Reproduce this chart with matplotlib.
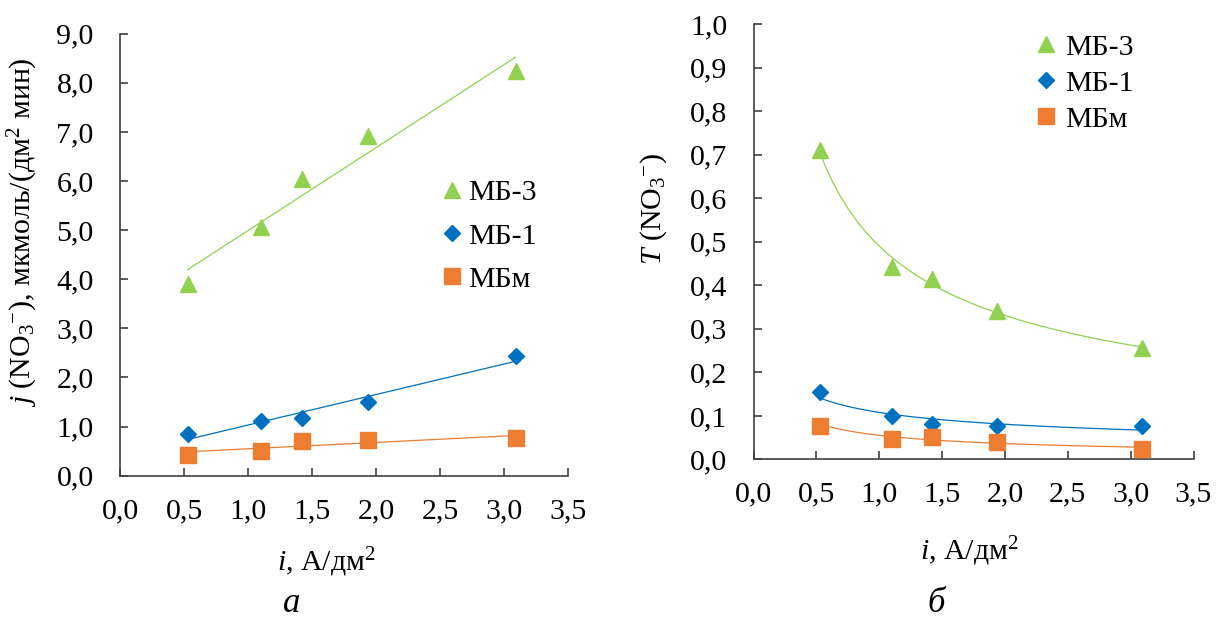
import matplotlib
matplotlib.use('Agg')
import matplotlib.pyplot as plt
import numpy as np
from matplotlib.ticker import FuncFormatter

# current density, A/dm2
x = [0.53, 1.10, 1.42, 1.94, 3.09]

# panel a: flux j(NO3-), umol/(dm2 min)
ja_mb3 = [3.90, 5.06, 6.05, 6.91, 8.24]
ja_mb1 = [0.85, 1.12, 1.17, 1.50, 2.43]
ja_mbm = [0.43, 0.51, 0.71, 0.73, 0.76]

# panel b: transport number T(NO3-)
tb_mb3 = [0.71, 0.443, 0.414, 0.342, 0.256]
tb_mb1 = [0.155, 0.100, 0.082, 0.077, 0.077]
tb_mbm = [0.078, 0.048, 0.052, 0.041, 0.025]

labels = ['МБ-3', 'МБ-1', 'МБм']
colors = ['#92D050', '#0070C0', '#ED7D31']
markers = ['^', 'D', 's']
msizes = [12, 8, 11]

plt.rcParams['font.family'] = ['Liberation Serif', 'DejaVu Serif']
plt.rcParams['mathtext.fontset'] = 'custom'
plt.rcParams['mathtext.rm'] = 'Liberation Serif'
plt.rcParams['mathtext.it'] = 'Liberation Serif:italic'
plt.rcParams['font.size'] = 21.5

comma = FuncFormatter(lambda v, _: '{:.1f}'.format(v).replace('.', ','))
axcol = '#404040'

fig = plt.figure(figsize=(12.16, 6.22), dpi=100)
axa = fig.add_axes([0.0987, 0.2352, 0.3684, 0.7106])
axb = fig.add_axes([0.6197, 0.2613, 0.3618, 0.6999])


def style(ax, ymax, ystep):
    for s in ['top', 'right']:
        ax.spines[s].set_visible(False)
    for s in ['left', 'bottom']:
        ax.spines[s].set_color(axcol)
        ax.spines[s].set_linewidth(1.2)
    ax.set_xlim(0, 3.5)
    ax.set_ylim(0, ymax)
    ax.set_xticks(np.arange(0, 3.51, 0.5))
    ax.set_yticks(np.arange(0, ymax + ystep / 2, ystep))
    ax.xaxis.set_major_formatter(comma)
    ax.yaxis.set_major_formatter(comma)
    ax.tick_params(direction='in', length=6, width=1.2, color=axcol)
    ax.tick_params(axis='y', pad=19)
    ax.tick_params(axis='x', pad=16)


xs = np.array(x)

# panel a - linear trend lines
for ys, lab, c, m, ms in zip([ja_mb3, ja_mb1, ja_mbm], labels, colors, markers, msizes):
    k, b = np.polyfit(xs, ys, 1)
    xx = np.array([xs[0], xs[-1]])
    axa.plot(xx, k * xx + b, color=c, lw=0.9, zorder=2)
    axa.plot(xs, ys, linestyle='none', marker=m, ms=ms, color=c, label=lab, zorder=3)

style(axa, 9.0, 1.0)
axa.set_ylabel(r'$\mathit{j}$ (NO$_3{}^{-}$), мкмоль/(дм$^2$ мин)')
axa.yaxis.set_label_coords(-0.179, 0.551)
axa.set_xlabel(r'$\mathit{i}$, А/дм$^2$')
axa.xaxis.set_label_coords(0.46, -0.159)
axa.legend(loc='upper left', bbox_to_anchor=(0.714, 0.670), frameon=False,
           handlelength=0.8, handletextpad=0.15, labelspacing=0.545,
           borderpad=0, borderaxespad=0, fontsize=21.5)

# panel b - power trend lines
for ys, lab, c, m, ms in zip([tb_mb3, tb_mb1, tb_mbm], labels, colors, markers, msizes):
    p, q = np.polyfit(np.log(xs), np.log(ys), 1)
    xx = np.linspace(xs[0], xs[-1], 200)
    axb.plot(xx, np.exp(q) * xx ** p, color=c, lw=0.9, zorder=2)
    axb.plot(xs, ys, linestyle='none', marker=m, ms=ms, color=c, label=lab, zorder=3)

style(axb, 1.0, 0.1)
axb.set_ylabel(r'$\mathit{T}$ (NO$_3{}^{-}$)')
axb.yaxis.set_label_coords(-0.192, 0.575)
axb.set_xlabel(r'$\mathit{i}$, А/дм$^2$')
axb.xaxis.set_label_coords(0.49, -0.173)
axb.legend(loc='upper left', bbox_to_anchor=(0.637, 0.978), frameon=False,
           handlelength=0.8, handletextpad=0.25, labelspacing=0.305,
           borderpad=0, borderaxespad=0, fontsize=21.5)

fig.text(0.240, 0.004, 'а', style='italic', fontsize=25, ha='center', va='bottom')
fig.text(0.770, 0.004, 'б', style='italic', fontsize=25, ha='center', va='bottom')

fig.savefig('out.png', dpi=100)
